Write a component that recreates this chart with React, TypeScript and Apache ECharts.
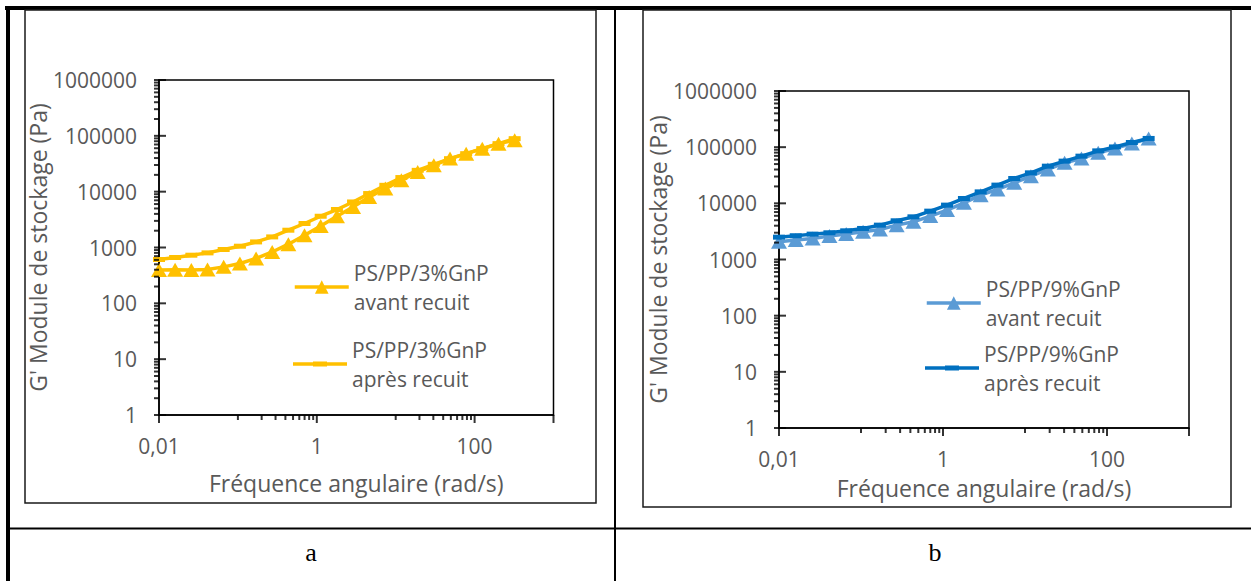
import React, { useEffect, useRef } from "react";
import * as echarts from "echarts";

// ---- data ----
const freq = [0.01, 0.016, 0.0257, 0.0412, 0.066, 0.106, 0.17, 0.272, 0.436, 0.699, 1.12, 1.8, 2.88, 4.61, 7.39, 11.8, 19, 30.4, 48.8, 78.2, 125, 201, 322];

const gAvantA = [395, 400, 395, 405, 450, 517, 636, 832, 1146, 1660, 2430, 3630, 5330, 8030, 11350, 16000, 22500, 29700, 39100, 48000, 59000, 72500, 83000];
const gApresA = [610, 662, 728, 801, 920, 1055, 1259, 1548, 2040, 2690, 3630, 4790, 6540, 9250, 13000, 17900, 24100, 30900, 39000, 47900, 59000, 72500, 89000];

const gAvantB = [2065, 2215, 2370, 2610, 2830, 3110, 3430, 4090, 4690, 5920, 7570, 10200, 14000, 17700, 23200, 30500, 40100, 52600, 63000, 79300, 94900, 116000, 143000];
const gApresB = [2500, 2650, 2830, 2990, 3240, 3570, 4090, 4890, 5750, 7260, 9290, 12200, 16000, 21100, 27700, 34900, 45900, 56400, 69200, 85900, 101000, 121000, 143000];

const nameAvantA = "PS/PP/3%GnP\navant recuit";
const nameApresA = "PS/PP/3%GnP\naprès recuit";
const nameAvantB = "PS/PP/9%GnP\navant recuit";
const nameApresB = "PS/PP/9%GnP\naprès recuit";

const xTitle = "Fréquence angulaire (rad/s)";
const yTitle = "G' Module de stockage (Pa)";

// axis ticks
const xLabelMap: Record<number, string> = { [-2]: "0,01", [0]: "1", [2]: "100" };
const xMajorTicks = [0.01, 1, 100, 1000];
const xMinorTicks = [0.1, 0.2, 0.3, 0.4, 0.5, 0.6, 0.7, 0.8, 0.9, 10, 20, 30, 40, 50, 60, 70, 80, 90];
const yMajorTicks = [1, 10, 100, 1000, 10000, 100000, 1000000];
const yMinorMultipliers = [2, 3, 4, 5, 6, 7, 8, 9];

const FONT = "'Open Sans', sans-serif";
const GREY = "#595959";

const yMinorTicks: number[] = [];
yMajorTicks.slice(0, -1).forEach((d) => yMinorMultipliers.forEach((k) => yMinorTicks.push(k * d)));

function makeXAxis(gridIndex: number, nameGap: number) {
  return {
    type: "log", gridIndex, logBase: 10, min: 0.01, max: 1000,
    name: xTitle, nameLocation: "middle", nameGap,
    nameTextStyle: { color: GREY, fontSize: 23, fontFamily: FONT },
    axisLine: { show: true, onZero: false, lineStyle: { color: "#000", width: 1.5 } },
    axisTick: { show: false }, splitLine: { show: false },
    axisLabel: { color: GREY, fontSize: 21, fontFamily: FONT, margin: 20, formatter: (v: number) => xLabelMap[Math.round(Math.log10(v))] ?? "" },
  };
}

function makeYAxis(gridIndex: number, nameGap: number) {
  return {
    type: "log", gridIndex, logBase: 10, min: 1, max: 1000000,
    name: yTitle, nameLocation: "middle", nameGap,
    nameTextStyle: { color: GREY, fontSize: 23, fontFamily: FONT },
    axisLine: { show: true, onZero: false, lineStyle: { color: "#000", width: 1.5 } },
    axisTick: { show: false }, splitLine: { show: false },
    axisLabel: { color: GREY, fontSize: 21, fontFamily: FONT, margin: 22, formatter: (v: number) => String(Math.round(v)) },
  };
}

const LH = 29;
const legendTextStyle = { color: GREY, fontSize: 21, fontFamily: FONT, lineHeight: LH, padding: [LH, 0, 0, 0] };
const dashIcon = "path://M0,6.25h54v3.5H0z M20,5.5h14v5H20z";

function makeLegend(name: string, left: number, firstLineY: number, icon?: string) {
  return {
    data: [icon ? { name, icon } : name], left, top: firstLineY - 1.5 * LH, orient: "vertical", padding: 0,
    itemWidth: 54, itemHeight: 17, selectedMode: false, lineStyle: { width: 3.5 }, textStyle: legendTextStyle,
  };
}

function lineSeries(name: string, xi: number, values: number[], color: string, triangle: boolean) {
  return {
    type: "line", name, xAxisIndex: xi, yAxisIndex: xi,
    data: freq.map((f, i) => [f, values[i]]),
    symbol: triangle ? "triangle" : "rect", symbolSize: triangle ? [16, 14] : [12, 5], showSymbol: true,
    lineStyle: { color, width: 3.5 }, itemStyle: { color }, clip: false, z: triangle ? 2 : 3,
  };
}

function tickScatter(idx: number) {
  const base = { type: "scatter", xAxisIndex: idx, yAxisIndex: idx, symbol: "rect", itemStyle: { color: "#000" }, silent: true, clip: false, z: 10 };
  return [
    { ...base, name: "txMajor" + idx, data: xMajorTicks.map((v) => [v, 1]), symbolSize: [2, 8], symbolOffset: [0, 4] },
    { ...base, name: "txMinor" + idx, data: xMinorTicks.map((v) => [v, 1]), symbolSize: [2, 5], symbolOffset: [0, 2.5] },
    { ...base, name: "tyMajor" + idx, data: yMajorTicks.map((v) => [0.01, v]), symbolSize: [12, 2], symbolOffset: [1, 0] },
    { ...base, name: "tyMinor" + idx, data: yMinorTicks.map((v) => [0.01, v]), symbolSize: [5, 2], symbolOffset: [-2.5, 0] },
  ];
}

const baseGraphics: any[] = [
  { type: "rect", shape: { x: 5, y: 6, width: 1246, height: 4 }, style: { fill: "#000" } },
  { type: "rect", shape: { x: 6, y: 6, width: 4, height: 575 }, style: { fill: "#000" } },
  { type: "rect", shape: { x: 614, y: 9, width: 2, height: 572 }, style: { fill: "#000" } },
  { type: "rect", shape: { x: 8, y: 527.5, width: 1243, height: 2 }, style: { fill: "#000" } },
  { type: "rect", shape: { x: 25, y: 10, width: 571, height: 493 }, style: { fill: "none", stroke: "#1a1a1a", lineWidth: 1.5 } },
  { type: "rect", shape: { x: 643, y: 10, width: 588, height: 497 }, style: { fill: "none", stroke: "#1a1a1a", lineWidth: 1.5 } },
  { type: "text", x: 311, y: 552, style: { text: "a", fontSize: 26, fontFamily: "'Liberation Serif', serif", fill: "#000", align: "center", verticalAlign: "middle" } },
  { type: "text", x: 935, y: 552, style: { text: "b", fontSize: 26, fontFamily: "'Liberation Serif', serif", fill: "#000", align: "center", verticalAlign: "middle" } },
];

export default function App() {
  const ref = useRef<HTMLDivElement>(null);
  useEffect(() => {
    if (!ref.current) return;
    const chart = echarts.init(ref.current, null, { renderer: "svg" });
    chart.setOption({
      animation: false,
      backgroundColor: "#fff",
      grid: [
        { left: 159, top: 80, width: 394.5, height: 335, show: true, borderColor: "#000", borderWidth: 1.5, backgroundColor: "transparent" },
        { left: 779, top: 91, width: 410, height: 337, show: true, borderColor: "#000", borderWidth: 1.5, backgroundColor: "transparent" },
      ],
      xAxis: [makeXAxis(0, 56.5), makeXAxis(1, 48.5)],
      yAxis: [makeYAxis(0, 100), makeYAxis(1, 101.5)],
      legend: [
        makeLegend(nameAvantA, 293, 287),
        makeLegend(nameApresA, 293, 364, dashIcon),
        makeLegend(nameAvantB, 925, 303),
        makeLegend(nameApresB, 925, 368, dashIcon),
      ],
      series: [
        lineSeries(nameAvantA, 0, gAvantA, "#FFC000", true),
        lineSeries(nameApresA, 0, gApresA, "#FFC000", false),
        lineSeries(nameAvantB, 1, gAvantB, "#5B9BD5", true),
        lineSeries(nameApresB, 1, gApresB, "#0070C0", false),
        ...tickScatter(0),
        ...tickScatter(1),
      ],
      graphic: { elements: baseGraphics },
    });
    return () => chart.dispose();
  }, []);
  return <div ref={ref} style={{ position: "absolute", left: 0, top: 0, width: 1251, height: 581 }} />;
}
